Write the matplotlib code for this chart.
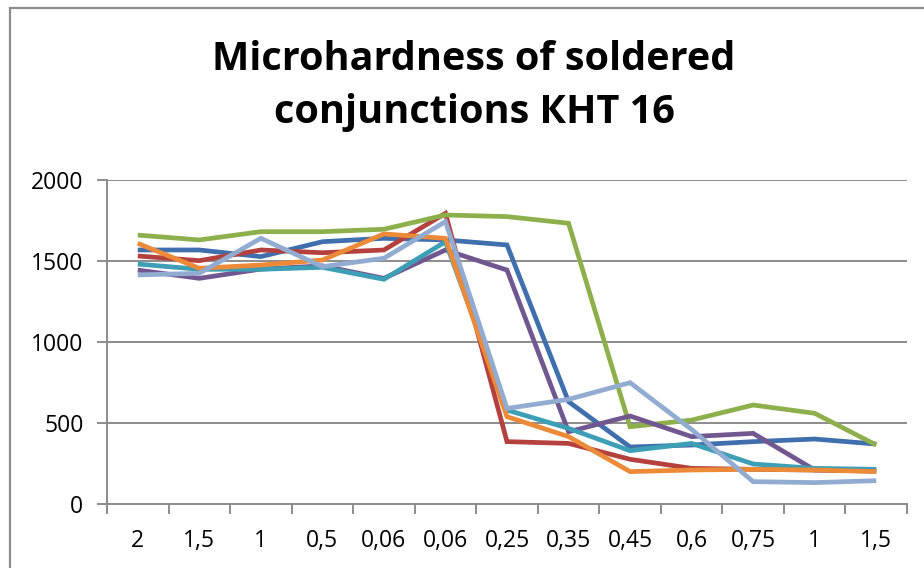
import matplotlib
matplotlib.use("Agg")
import matplotlib.pyplot as plt
from matplotlib.patches import Rectangle

categories = ["2", "1,5", "1", "0,5", "0,06", "0,06", "0,25", "0,35", "0,45", "0,6", "0,75", "1", "1,5"]

s_blue = [1568, 1568, 1527, 1619, 1640, 1630, 1599, 632, 352, 364, 385, 401, 370]
s_red = [1531, 1502, 1568, 1551, 1568, 1794, 385, 374, 276, 220, 214, 210, 204]
s_green = [1660, 1630, 1681, 1681, 1696, 1784, 1774, 1733, 477, 518, 611, 560, 364]
s_purple = [1444, 1393, 1450, 1470, 1393, 1568, 1444, 446, 543, 416, 436, 210, 204]
s_cyan = [1481, 1449, 1449, 1461, 1387, 1619, 580, 467, 329, 374, 247, 220, 214]
s_orange = [1609, 1455, 1475, 1506, 1667, 1640, 539, 416, 200, 210, 214, 210, 200]
s_lightblue = [1414, 1424, 1640, 1465, 1517, 1743, 590, 646, 749, 460, 138, 132, 144]

series = [s_blue, s_red, s_green, s_purple, s_cyan, s_orange, s_lightblue]
colors = ["#3F6FAD", "#B5413E", "#8DB04C", "#71578F", "#3D9FB5", "#EC8A38", "#92ABD1"]

W, H = 924, 568
fig = plt.figure(figsize=(W / 100, H / 100), dpi=100)
fig.patch.set_facecolor("white")

# chart area border (cropped on right/bottom)
fig.add_artist(Rectangle((10 / W, -0.1), 1.2, 1 - 8 / H + 0.1, transform=fig.transFigure,
                         fill=False, edgecolor="#8C8C8C", linewidth=1.6))

x0, x1 = 107, 907
y0, y1 = 504, 180
ax = fig.add_axes([x0 / W, 1 - y0 / H, (x1 - x0) / W, (y0 - y1) / H])

n = len(categories)
xs = [i + 0.5 for i in range(n)]
for vals, c in zip(series, colors):
    ax.plot(xs, vals, color=c, linewidth=3.4, solid_joinstyle="miter", solid_capstyle="butt")

ax.set_xlim(0, n)
ax.set_ylim(0, 2000)
ax.set_yticks([0, 500, 1000, 1500, 2000])
ax.set_yticklabels(["0", "500", "1000", "1500", "2000"])
ax.yaxis.grid(True, color="#8C8C8C", linewidth=1.4)
ax.set_axisbelow(True)

ax.set_xticks(range(n + 1))
ax.set_xticklabels([])
ax.set_xticks(xs, minor=True)
ax.set_xticklabels(categories, minor=True)
ax.tick_params(axis="x", which="minor", length=0, pad=18)
ax.tick_params(axis="x", which="major", length=7, width=1.4, color="#8C8C8C", direction="out")
ax.tick_params(axis="y", length=7, width=1.4, color="#8C8C8C", direction="out", pad=10)

for lab in ax.get_xticklabels(minor=True) + ax.get_yticklabels():
    lab.set_fontfamily("Open Sans")
    lab.set_fontsize(16.5)
    lab.set_color("black")

for sp in ["top", "right"]:
    ax.spines[sp].set_visible(False)
ax.spines["left"].set_color("#8C8C8C")
ax.spines["left"].set_linewidth(1.4)
ax.spines["bottom"].set_color("#8C8C8C")
ax.spines["bottom"].set_linewidth(1.4)

fig.text(474 / W, 1 - 60 / H, "Microhardness of soldered", ha="center", va="center",
         fontfamily="Open Sans", fontweight="bold", fontsize=28.5)
fig.text(474 / W, 1 - 113 / H, "conjunctions КНТ 16", ha="center", va="center",
         fontfamily="Open Sans", fontweight="bold", fontsize=28.5)

fig.savefig("out.png", dpi=100, facecolor="white")
